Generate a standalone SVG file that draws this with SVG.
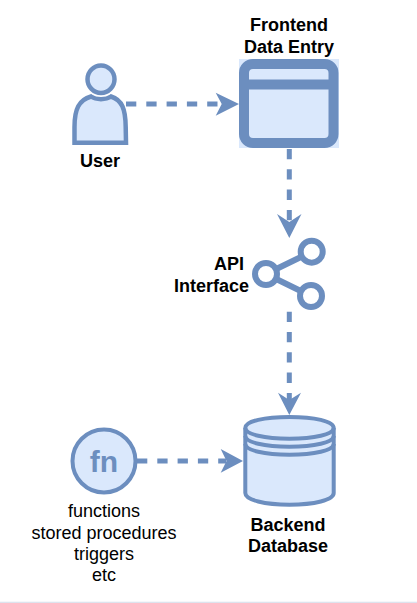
<svg xmlns="http://www.w3.org/2000/svg" width="417" height="603" viewBox="0 0 417 603">
<style>
text{font-family:"Liberation Sans",Arial,sans-serif;font-size:18px;fill:#000}
.b{font-weight:bold;text-anchor:middle}
.r{font-weight:bold;text-anchor:end}
.c{text-anchor:middle}
.s{fill:#dae8fc;stroke:#6c8ebf}
.d{fill:none;stroke:#6c8ebf;stroke-width:5;stroke-dasharray:10.3 10}
.a{fill:#6c8ebf}
.l{fill:none;stroke:#6c8ebf}
</style>
<rect width="417" height="603" fill="#fff"/>
<rect x="0" y="601.7" width="417" height="1.3" fill="#dde3ee"/>
<g id="connectors">
<path class="d" d="M126 104H222"/>
<path class="a" d="M239 104L215.700 92.700L221.700 104L215.700 115.700Z"/>
<path class="d" d="M289.300 149V222"/>
<path class="a" d="M289.300 238L277 214L289.300 222L301.500 214Z"/>
<path class="d" d="M289.300 311.700V400"/>
<path class="a" d="M289.300 415L278 392.700L289.300 400L301 392.700Z"/>
<path class="d" d="M137 461H226"/>
<path class="a" d="M243 461L220.700 449L226.500 461L220.700 472.700Z"/>
</g>
<g id="user">
<path class="s" stroke-width="4.500" d="M74.500 142.700V127C74.500 109 79 100 91 96.500C96 100 106 100 111 96.500C122 100 125.500 109 125.700 127L126 142.700Z"/>
<ellipse class="s" stroke-width="4.500" cx="101" cy="79.200" rx="13.500" ry="13.700"/>
<text class="b" x="100" y="167">User</text>
</g>
<g id="frontend">
<rect x="239" y="59" width="100" height="89" fill="#dae8fc"/>
<rect class="s" stroke-width="10" x="244" y="64" width="89.500" height="79" rx="9"/>
<path class="l" d="M244 84.500H334" stroke-width="10"/>
<text class="b" x="289" y="31">Frontend</text>
<text class="b" x="289" y="53">Data Entry</text>
</g>
<g id="api">
<path class="l" d="M266 274L311.700 251.700M266 274L311 296" stroke-width="6"/>
<circle cx="266" cy="274" r="11" fill="#fff" stroke="#6c8ebf" stroke-width="6"/>
<circle cx="311.700" cy="251.700" r="11" fill="#fff" stroke="#6c8ebf" stroke-width="6"/>
<circle cx="311" cy="296" r="11" fill="#fff" stroke="#6c8ebf" stroke-width="6"/>
<text class="r" x="244" y="270">API</text>
<text class="r" x="249" y="292">Interface</text>
</g>
<g id="database">
<path class="s" stroke-width="4" d="M245.300 428C245.300 421 265 417 289.500 417C314 417 333.700 421 333.700 428V493C333.700 500 314 504.700 289.500 504.700C265 504.700 245.300 500 245.300 493Z"/>
<path class="l" stroke-width="4" d="M245.300 428C245.300 434.500 265 438.700 289.500 438.700C314 438.700 333.700 434.500 333.700 428M245.300 436C245.300 442.500 265 446.700 289.500 446.700C314 446.700 333.700 442.500 333.700 436M245.300 444C245.300 450.500 265 454.700 289.500 454.700C314 454.700 333.700 450.500 333.700 444"/>
<text class="b" x="288" y="531">Backend</text>
<text class="b" x="288" y="552">Database</text>
</g>
<g id="functions">
<circle class="s" stroke-width="4" cx="104" cy="461" r="31.500"/>
<text x="104" y="472" text-anchor="middle" style="font-size:30px;font-weight:bold;fill:#6c8ebf">fn</text>
<text class="c" x="104" y="517">functions</text>
<text class="c" x="104" y="538.500">stored procedures</text>
<text class="c" x="104" y="559.500">triggers</text>
<text class="c" x="104" y="580.500">etc</text>
</g>
</svg>
